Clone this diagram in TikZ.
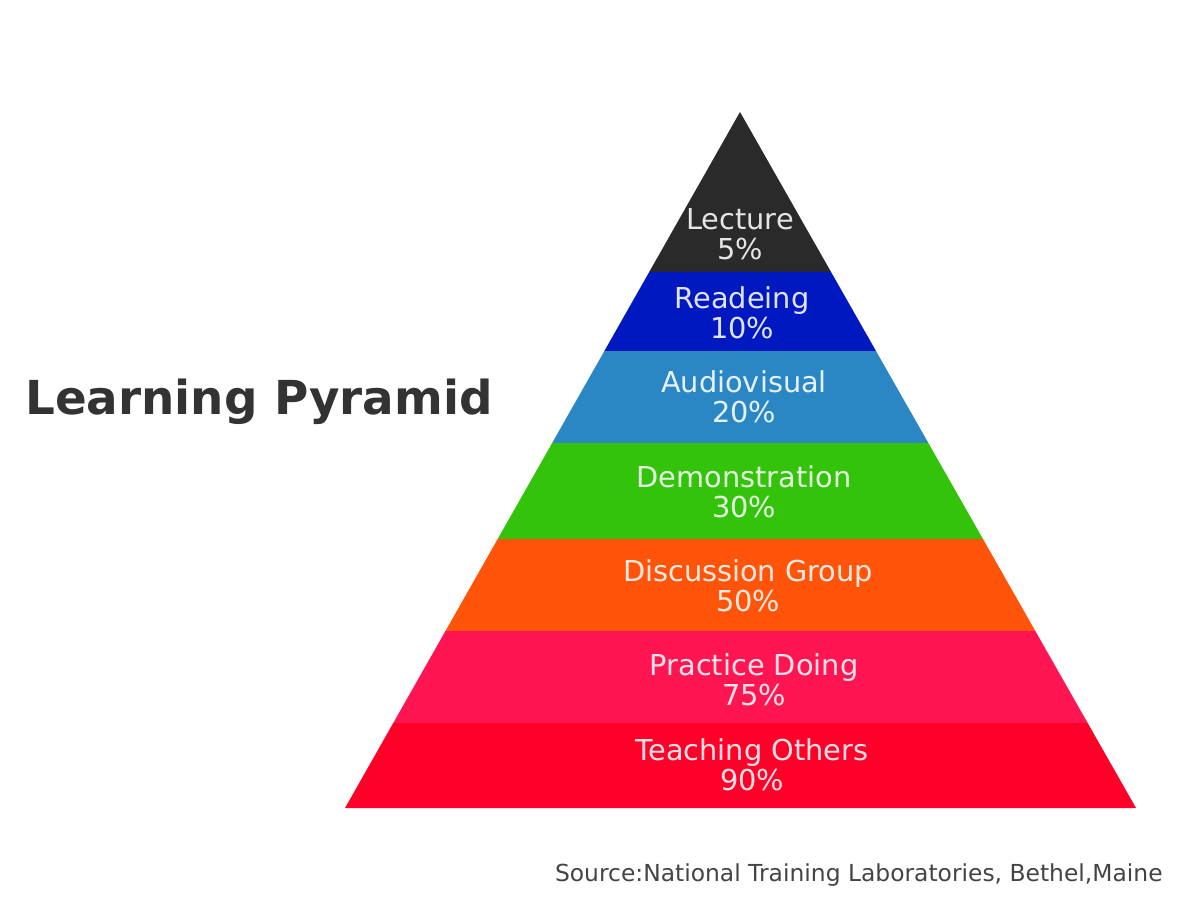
\documentclass[tikz,border=0pt]{standalone}
\usepackage{fontspec}
\setmainfont{DejaVu Sans}
\usepackage{tikz}

\definecolor{lecturecol}{HTML}{2A2A2A}
\definecolor{readingcol}{HTML}{0018C0}
\definecolor{audiocol}{HTML}{2B87C4}
\definecolor{democol}{HTML}{33C30A}
\definecolor{discusscol}{HTML}{FF540A}
\definecolor{practicecol}{HTML}{FF1552}
\definecolor{teachcol}{HTML}{FF0028}
\definecolor{titlecol}{HTML}{333333}
\definecolor{sourcecol}{HTML}{444444}

\tikzset{
  bandlabel/.style={text=white, text opacity=0.88, align=center,
    font=\fontsize{14.4}{15}\selectfont, inner sep=0pt},
  pyrtitle/.style={text=titlecol, font=\fontsize{23.4}{28}\selectfont\bfseries, inner sep=0pt},
  sourcetext/.style={text=sourcecol, font=\fontsize{11.7}{14}\selectfont, inner sep=0pt}
}

\begin{document}
\begin{tikzpicture}[x=0.5pt, y=-0.5pt]
\useasboundingbox (0,0) rectangle (1186,914);
% pyramid bands, top to bottom
\foreach \t/\b/\col/\lx/\ly/\nm/\txt in {
  112/272/lecturecol/740/234/lecture/{Lecture\\5\%},
  272/351/readingcol/742/313/reading/{Readeing\\10\%},
  351/443/audiocol/744/397/audio/{Audiovisual\\20\%},
  443/539/democol/744/492/demo/{Demonstration\\30\%},
  539/631/discusscol/748/586/discuss/{Discussion Group\\50\%},
  631/723/practicecol/754/680/practice/{Practice Doing\\75\%},
  723/808/teachcol/752/765/teach/{Teaching Others\\90\%}} {
  \fill[\col] ({740-0.5675*(\t-112)},\t) -- ({740+0.569*(\t-112)},\t)
    -- ({740+0.569*(\b-112)},\b) -- ({740-0.5675*(\b-112)},\b) -- cycle;
  \node[bandlabel] (\nm) at (\lx,\ly) {\txt};
}
\node[pyrtitle, anchor=base west] (title) at (25,414) {Learning Pyramid};
\node[sourcetext, anchor=base east] (source) at (1163,881) {Source:National Training Laboratories, Bethel,Maine};
\end{tikzpicture}
\end{document}
